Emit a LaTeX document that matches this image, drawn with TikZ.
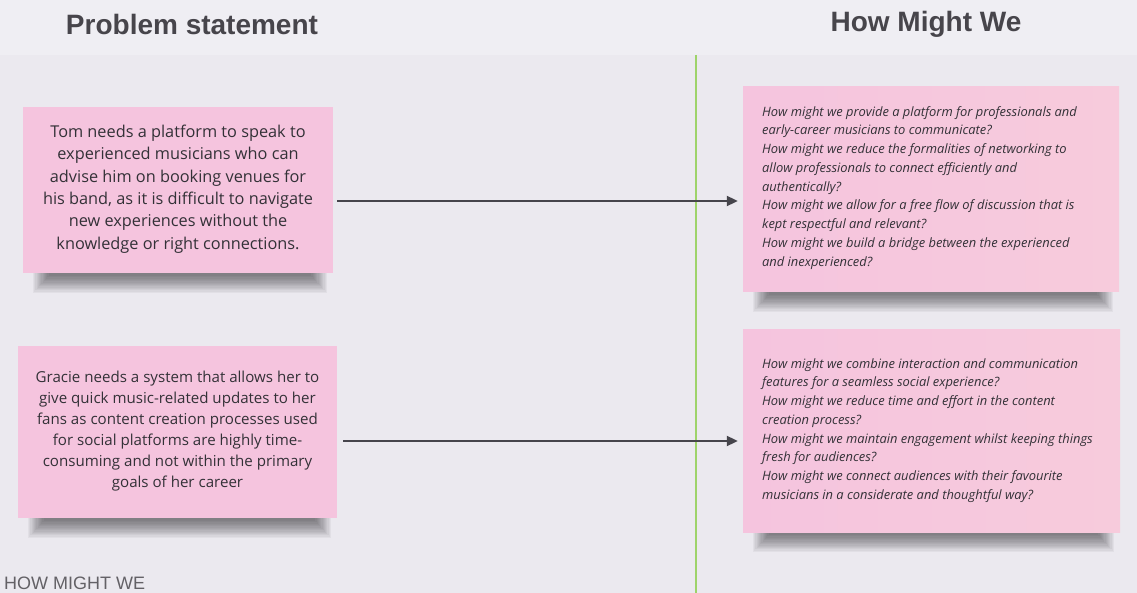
\documentclass[tikz,border=0pt]{standalone}
\usepackage{fontspec}
\setmainfont{Open Sans}
\newfontfamily\headfont{Liberation Sans}
\usetikzlibrary{arrows.meta,calc}
\definecolor{bgmain}{HTML}{EBE9EF}
\definecolor{bgtop}{HTML}{EFEEF3}
\definecolor{notepink}{HTML}{F5C4DE}
\definecolor{notepinkb}{HTML}{F7CBDC}
\definecolor{inkdark}{HTML}{333137}
\definecolor{headink}{HTML}{47454B}
\definecolor{arrowink}{HTML}{46454C}
\definecolor{divgreen}{HTML}{9ED36A}
\tikzset{
  note/.style={rectangle, fill=notepink, draw=none, inner sep=0pt},
  hmwnote/.style={rectangle, draw=none, inner sep=0pt, left color=notepink, right color=notepinkb},
  probtext/.style={align=center, text=inkdark, inner sep=0pt},
  hmwtext/.style={align=left, text=inkdark, inner sep=0pt, anchor=north west, font=\itshape\fontsize{12.9}{18.75}\selectfont},
  heading/.style={text=headink, inner sep=0pt, font=\headfont\bfseries\fontsize{28}{32}\selectfont},
  conn/.style={draw=arrowink, line width=2pt, -{Triangle[length=11pt,width=10pt]}}
}
\newcommand{\noteshadow}[4]{%
  \foreach \i in {0,...,13}{
    \fill[black, opacity=0.04] (#1+10+\i*1.2, #4-6) rectangle (#3-6-\i*1.2, #4+20-\i*1.3);
  }
}
\begin{document}
\begin{tikzpicture}[x=1pt,y=-1pt]
\useasboundingbox (0,0) rectangle (1137,593);
\fill[bgmain] (0,0) rectangle (1137,593);
\fill[bgtop] (0,0) rectangle (1137,55);
% divider
\draw[divgreen, line width=1.6pt] (696,55) -- (696,593);
% headings
\node[heading] (hps) at (192,24) {Problem statement};
\node[heading] (hhmw) at (926,24) {How Might We};
% shadows
\noteshadow{23}{107}{333}{273}
\noteshadow{18}{346}{337}{518}
\noteshadow{743}{87}{1119}{292}
\noteshadow{743}{330}{1120}{532}
% notes
\node[note, minimum width=310pt, minimum height=166pt] (tom) at (178,190) {};
\node[probtext, font=\fontsize{16.3}{22.3}\selectfont] (tomtxt) at (178,189) {Tom needs a platform to speak to\\experienced musicians who can\\advise him on booking venues for\\his band, as it is difficult to navigate\\new experiences without the\\knowledge or right connections.};
\node[note, minimum width=319pt, minimum height=172pt] (gracie) at (177.5,432) {};
\node[probtext, font=\fontsize{15.1}{21.1}\selectfont] (gractxt) at (177.5,431) {Gracie needs a system that allows her to\\give quick music-related updates to her\\fans as content creation processes used\\for social platforms are highly time-\\consuming and not within the primary\\goals of her career};
\node[hmwnote, minimum width=376pt, minimum height=205pt] (hmwa) at (931,189.5) {};
\node[hmwtext] (hmwatxt) at (762,106) {How might we provide a platform for professionals and\\early-career musicians to communicate?\\How might we reduce the formalities of networking to\\allow professionals to connect efficiently and\\authentically?\\How might we allow for a free flow of discussion that is\\kept respectful and relevant?\\How might we build a bridge between the experienced\\and inexperienced?};
\node[hmwnote, minimum width=377pt, minimum height=202pt] (hmwb) at (931.5,431) {};
\node[hmwtext] (hmwbtxt) at (762,358) {How might we combine interaction and communication\\features for a seamless social experience?\\How might we reduce time and effort in the content\\creation process?\\How might we maintain engagement whilst keeping things\\fresh for audiences?\\How might we connect audiences with their favourite\\musicians in a considerate and thoughtful way?};
% connectors
\draw[conn] ($(tom.east)+(4,11)$) -- ($(hmwa.west)+(-5,11.5)$);
\draw[conn] ($(gracie.east)+(6,9)$) -- ($(hmwb.west)+(-5,10)$);
% footer
\node[anchor=base west, inner sep=0pt, text=headink!85, font=\headfont\fontsize{18}{20}\selectfont] (foot) at (4,589) {HOW MIGHT WE};
\end{tikzpicture}
\end{document}
